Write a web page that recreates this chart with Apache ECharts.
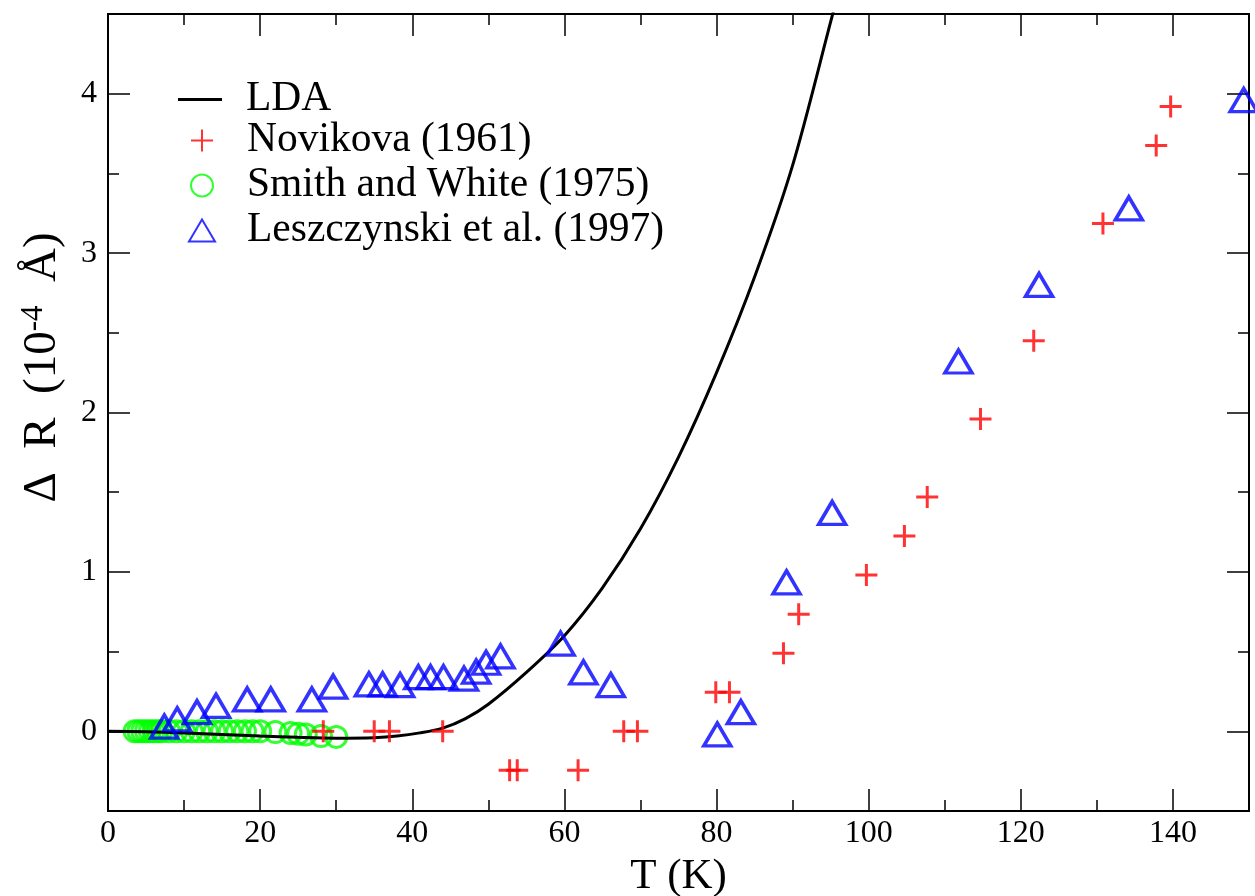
<!DOCTYPE html>
<html>
<head>
<meta charset="utf-8">
<script src="https://cdn.jsdelivr.net/npm/echarts@6/dist/echarts.min.js"></script>
<style>html,body{margin:0;padding:0;background:#fff}#c{width:1255px;height:896px}</style>
</head>
<body>
<div id="c"></div>
<script>
// ---- data ----
const ldaT = [0, 5, 10, 15, 20, 25, 30, 35, 38, 41, 44, 47, 50, 55, 60, 65, 70, 75, 80, 85, 90, 95, 98];
const ldaR = [0, -0.003, -0.01, -0.02, -0.03, -0.038, -0.043, -0.04, -0.03, -0.01, 0.02, 0.08, 0.17, 0.37, 0.6, 0.9, 1.27, 1.72, 2.25, 2.85, 3.55, 4.45, 5.0];

const novT = [28.3, 35, 37, 44, 52.8, 53.8, 61.8, 67.8, 69.6, 79.9, 81.7, 88.8, 90.8, 99.7, 104.7, 107.7, 114.7, 121.7, 130.8, 137.8, 139.7];
const novR = [0, 0, 0, 0, -0.245, -0.245, -0.245, 0, 0, 0.245, 0.245, 0.49, 0.735, 0.98, 1.225, 1.47, 1.96, 2.45, 3.185, 3.675, 3.92];

const smT = [3.5, 4, 4.5, 5, 5.5, 6, 6.5, 7, 8, 9, 10, 11, 12, 13, 14, 15, 16, 17, 18, 19, 20, 22, 24, 25, 26, 28, 30];
const smR = [0, 0, 0, 0, 0, 0, 0, 0, 0, 0, 0, 0, 0, 0, 0, 0, 0, 0, 0, 0, 0, -0.005, -0.01, -0.015, -0.02, -0.03, -0.035];

const lzT = [7.4, 9.1, 11.7, 14.2, 18.3, 21.4, 26.8, 29.6, 34.3, 36.1, 38.4, 40.8, 42.4, 44.1, 46.8, 48.4, 49.7, 51.6, 59.5, 62.5, 66.1, 80.1, 83.2, 89.2, 95.2, 111.8, 122.4, 134.2, 149.3];
const lzR = [0.03, 0.075, 0.12, 0.16, 0.2, 0.2, 0.2, 0.28, 0.295, 0.295, 0.29, 0.34, 0.34, 0.34, 0.33, 0.375, 0.43, 0.47, 0.55, 0.37, 0.29, -0.02, 0.12, 0.935, 1.37, 2.32, 2.80, 3.28, 3.96];

const xTickLabels = ['0', '20', '40', '60', '80', '100', '120', '140'];
const yTickLabels = ['0', '1', '2', '3', '4'];

const zip = (a, b) => a.map((v, i) => [v, b[i]]);
const FONT = 'Liberation Serif';

const chart = echarts.init(document.getElementById('c'), null, {renderer: 'canvas'});

const axisLine = {show: true, onZero: false, lineStyle: {color: '#000', width: 2}};
function xAx(pos, interval, len, labels, extra) {
  return Object.assign({
    type: 'value', position: pos, min: 0, max: 150, interval: interval,
    axisLine: axisLine,
    axisTick: {show: true, inside: true, length: len, lineStyle: {color: '#000', width: 1.5}},
    axisLabel: labels ? {show: true, fontFamily: FONT, fontSize: 32, color: '#000', margin: 7, showMaxLabel: false,
      formatter: v => xTickLabels.indexOf(String(v)) >= 0 ? String(v) : ''} : {show: false},
    splitLine: {show: false}
  }, extra || {});
}
function yAx(pos, split, len, labels, extra) {
  return Object.assign({
    type: 'value', position: pos, min: -0.5, max: 4.5, splitNumber: split,
    axisLine: axisLine,
    axisTick: {show: true, inside: true, length: len, lineStyle: {color: '#000', width: 1.5}},
    axisLabel: labels ? {show: true, fontFamily: FONT, fontSize: 32, color: '#000', margin: 11, showMinLabel: false, showMaxLabel: false,
      formatter: v => yTickLabels.indexOf(String(v)) >= 0 ? String(v) : ''} : {show: false},
    splitLine: {show: false}
  }, extra || {});
}

const option = {
  backgroundColor: '#fff',
  animation: false,
  grid: {left: 108, right: 6, top: 14, bottom: 85, containLabel: false, outerBoundsMode: 'none'},
  xAxis: [
    xAx('bottom', 20, 22, true, {name: 'T (K)', nameLocation: 'middle', nameGap: 44,
      nameTextStyle: {fontFamily: FONT, fontSize: 43, color: '#000'}}),
    xAx('bottom', 10, 11, false),
    xAx('top', 20, 22, false),
    xAx('top', 10, 11, false)
  ],
  yAxis: [
    yAx('left', 5, 22, true, {
      name: '{a|Δ  R  (10}{s|-4}{a|  Å)}', nameLocation: 'middle', nameGap: 40, nameRotate: 90,
      nameTextStyle: {fontFamily: FONT, color: '#000', padding: [0, 0, 0, 90],
        rich: {a: {fontFamily: FONT, fontSize: 47, color: '#000', lineHeight: 50},
               s: {fontFamily: FONT, fontSize: 31, color: '#000', verticalAlign: 'top', lineHeight: 50}}}
    }),
    yAx('left', 10, 11, false),
    yAx('right', 5, 22, false),
    yAx('right', 10, 11, false)
  ],
  legend: [
    {
      left: 178, top: 77, orient: 'vertical', padding: 0, itemGap: 0,
      itemWidth: 44, itemHeight: 3, selectedMode: false,
      textStyle: {fontFamily: FONT, fontSize: 41.5, color: '#000', lineHeight: 45, padding: [0, 0, 0, 19]},
      data: [{name: 'LDA', icon: 'rect'}]
    },
    {
      left: 188, top: 118, orient: 'vertical', padding: 0, itemGap: 0,
      itemWidth: 26, itemHeight: 22, selectedMode: false,
      textStyle: {fontFamily: FONT, fontSize: 41.5, color: '#000', lineHeight: 45, padding: [0, 0, 0, 27]},
      data: [{name: 'Novikova (1961)'}, {name: 'Smith and White (1975)'}, {name: 'Leszczynski et al. (1997)'}]
    }
  ],
  series: [
    {
      name: 'LDA', type: 'line', data: zip(ldaT, ldaR), smooth: 0.3, symbol: 'none',
      lineStyle: {color: '#000', width: 3}, itemStyle: {color: '#000'}, clip: true, z: 3
    },
    {
      name: 'Novikova (1961)', type: 'scatter', data: zip(novT, novR),
      symbol: 'path://M-10,0L10,0M0,-10L0,10', symbolSize: 22,
      itemStyle: {color: 'rgba(0,0,0,0)', borderColor: '#ff0000', borderWidth: 3}, z: 4
    },
    {
      name: 'Smith and White (1975)', type: 'scatter', data: zip(smT, smR),
      symbol: 'circle', symbolSize: 21,
      itemStyle: {color: 'rgba(0,0,0,0)', borderColor: '#00ff00', borderWidth: 3}, z: 2
    },
    {
      name: 'Leszczynski et al. (1997)', type: 'scatter', data: zip(lzT, lzR),
      symbol: 'triangle', symbolSize: [27, 23],
      itemStyle: {color: 'rgba(0,0,0,0)', borderColor: '#0000ff', borderWidth: 3.5}, z: 5
    }
  ]
};
chart.setOption(option);
</script>
</body>
</html>
